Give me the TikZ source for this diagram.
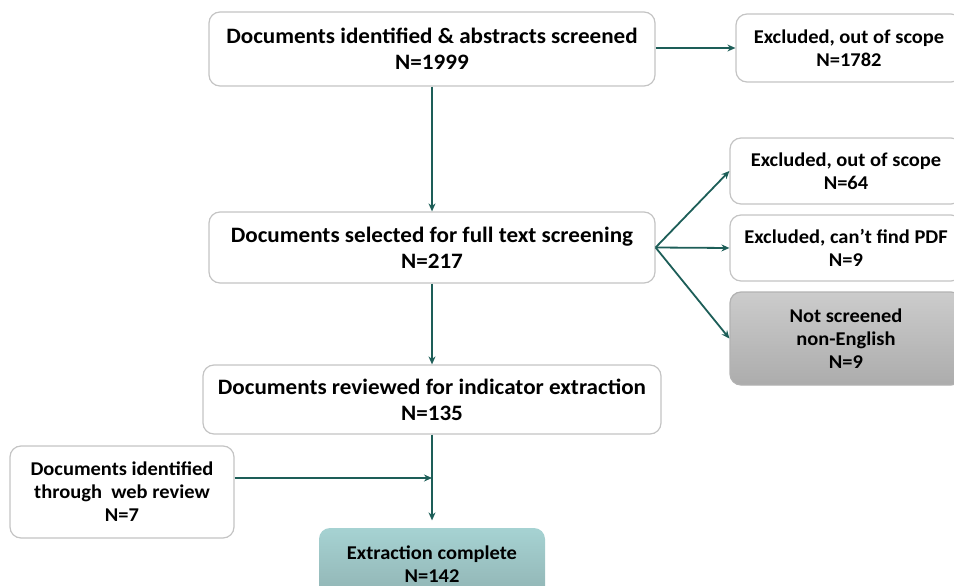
\documentclass[tikz,border=0pt]{standalone}
\usepackage{fontspec}
\setmainfont{Carlito}[FakeStretch=1.05]
\usetikzlibrary{arrows.meta}
\usetikzlibrary{positioning}
\definecolor{flowteal}{HTML}{1D5E58}
\definecolor{edgegray}{HTML}{C4C4C4}
\tikzset{box/.style = {draw=edgegray, line width=1.2, rounded corners=11, fill=white, align=center, inner sep=0,
    font=\bfseries\fontsize{22}{26}\selectfont}}
\tikzset{sidebox/.style = {box, font=\bfseries\fontsize{19.5}{23}\selectfont}}
\tikzset{flow/.style = {draw=flowteal, line width=1.8, -{Stealth[length=8, width=7]}}}

\begin{document}
\begin{tikzpicture}[x=1pt, y=-1pt]
      \useasboundingbox (0, 0) rectangle (954, 586);

      % main column
      \node[box, minimum width=446, minimum height=74] (ident) at (432, 49) {Documents identified \& abstracts screened\\N=1999};
      \node[box, minimum width=446, minimum height=71] (select) at (432, 247.5) {Documents selected for full text screening\\N=217};
      \node[box, minimum width=458, minimum height=69] (review) at (432, 399.5) {Documents reviewed for indicator extraction\\N=135};
      \node[sidebox, minimum width=226, minimum height=72, top color=teal!35!white, bottom color=teal!45!gray!60!white, draw=none] (done) at (432, 564) {Extraction complete\\N=142};

      % side boxes
      \node[sidebox, minimum width=226, minimum height=68] (out1) at (849, 48) {Excluded, out of scope\\N=1782};
      \node[sidebox, minimum width=232, minimum height=66] (out2) at (846, 171) {Excluded, out of scope\\N=64};
      \node[sidebox, minimum width=232, minimum height=66] (nopdf) at (846, 248) {Excluded, can't find PDF\\N=9};
      \node[sidebox, minimum width=232, minimum height=93, top color=gray!40, bottom color=gray!65, draw=gray!60] (lang) at (846, 338.5) {Not screened\\non-English\\N=9};
      \node[sidebox, minimum width=224, minimum height=92] (web) at (122, 492) {Documents identified\\through~ web review\\N=7};

      % connectors
      \coordinate (join) at (432, 478);
      \draw[flow] (ident) -- (select);
      \draw[flow] (ident.east |- out1) -- (out1.west);
      \draw[flow] (select.east) -- (out2.west);
      \draw[flow] (select.east) -- (nopdf.west);
      \draw[flow] (select.east) -- (lang.west);
      \draw[flow] (select) -- (review);
      \draw[flow, shorten >=7] (review) -- (done);
      \draw[flow] (web.east |- join) -- (join);
    \end{tikzpicture}
\end{document}
